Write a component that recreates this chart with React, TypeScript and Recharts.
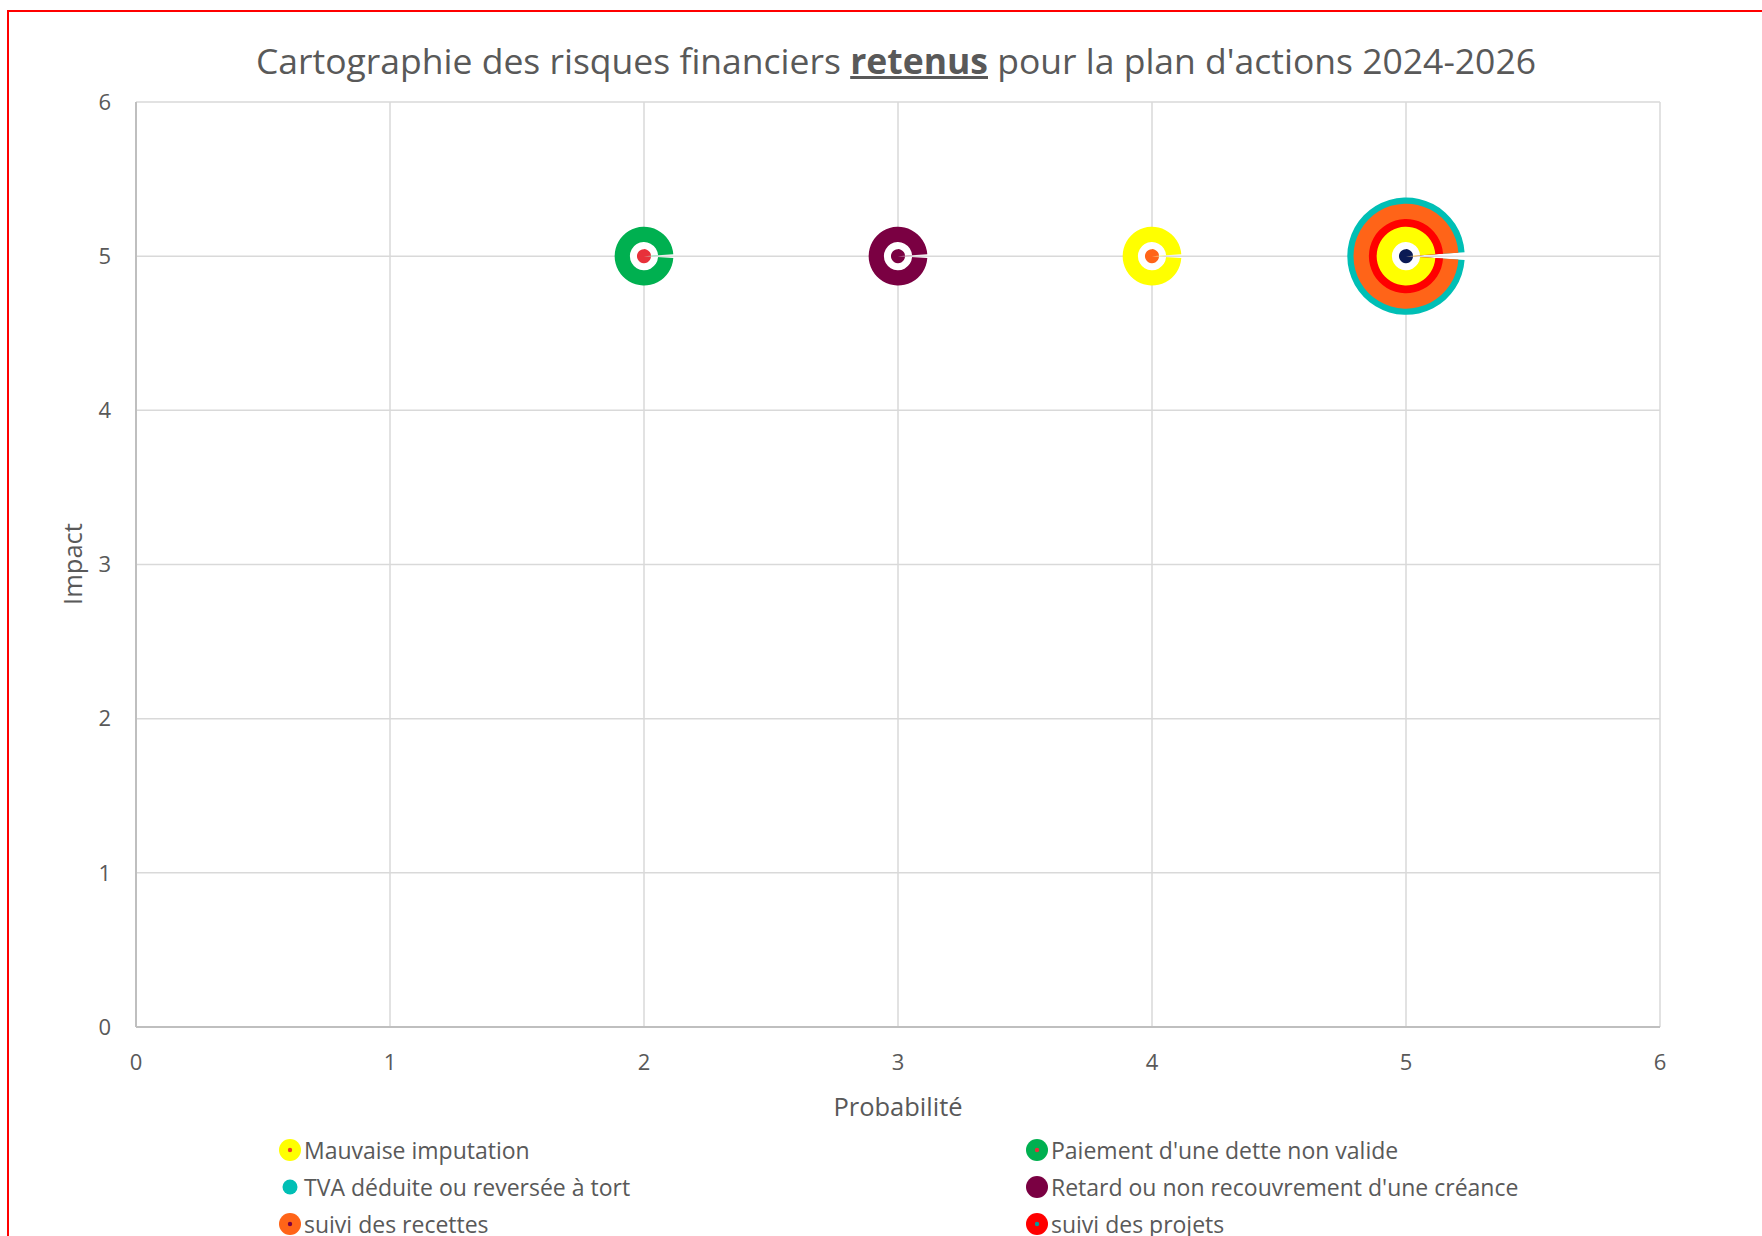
import { ScatterChart, Scatter, XAxis, YAxis, ZAxis, CartesianGrid } from "recharts";

const FONT = "'Open Sans', 'Noto Sans', sans-serif";
const TEXT = "#595959";

const axisTicks = [0, 1, 2, 3, 4, 5, 6];

// each risk: probabilité (x), impact (y), taille de bulle (z)
const mauvaiseImputation = [
  { x: 4, y: 5, z: 5 },
  { x: 5, y: 5, z: 5 },
];
const paiementDette = [{ x: 2, y: 5, z: 5 }];
const tvaDeduite = [{ x: 5, y: 5, z: 20 }];
const retardCreance = [{ x: 3, y: 5, z: 5 }];
const suiviRecettes = [{ x: 5, y: 5, z: 16 }];
const suiviProjets = [{ x: 5, y: 5, z: 8 }];

const legendNames = [
  "Mauvaise imputation",
  "Paiement d'une dette non valide",
  "TVA déduite ou reversée à tort",
  "Retard ou non recouvrement d'une créance",
  "suivi des recettes",
  "suivi des projets",
];

// styles
const colors: Record<string, string> = {
  "Mauvaise imputation": "#FFFF00",
  "Paiement d'une dette non valide": "#00B050",
  "TVA déduite ou reversée à tort": "#00BFB5",
  "Retard ou non recouvrement d'une créance": "#7A0042",
  "suivi des recettes": "#FF6418",
  "suivi des projets": "#FF0000",
};
const legendDots: Record<string, string | undefined> = {
  "Mauvaise imputation": "#F04020",
  "Paiement d'une dette non valide": "#E8303A",
  "suivi des recettes": "#7A0042",
  "suivi des projets": "#00A0A0",
};
const centreDots: Record<string, string> = {
  "2-5": "#E8303A",
  "3-5": "#7A0042",
  "4-5": "#FF6418",
  "5-5": "#0B1B55",
};

function notchedDisc(cx: number, cy: number, r: number) {
  const d = 0.065;
  const x1 = cx + r * Math.cos(d);
  const y1 = cy - r * Math.sin(d);
  const y2 = cy + r * Math.sin(d);
  return `M${cx},${cy} L${x1},${y1} A${r},${r} 0 1 0 ${x1},${y2} Z`;
}

function bubble(color: string, hole: boolean) {
  return (props: any) => {
    const { cx, cy, width, payload } = props;
    const r = width / 2;
    const dot = centreDots[`${payload.x}-${payload.y}`];
    return (
      <g>
        <path d={notchedDisc(cx, cy, r)} fill={color} />
        {hole && <path d={notchedDisc(cx, cy, r * 0.48)} fill="#FFFFFF" />}
        {hole && dot && <path d={notchedDisc(cx, cy, r * 0.24)} fill={dot} />}
      </g>
    );
  };
}

function LegendItem({ name }: { name: string }) {
  const r = name.startsWith("TVA") ? 7.5 : 11;
  const dot = legendDots[name];
  return (
    <div style={{ display: "flex", alignItems: "center", height: 37 }}>
      <svg width={22} height={24} style={{ flex: "none" }}>
        <circle cx={11} cy={12} r={r} fill={colors[name]} />
        {dot && <circle cx={11} cy={12} r={2.2} fill={dot} />}
      </svg>
      <span style={{ marginLeft: 3, fontSize: 23, lineHeight: "30px", color: TEXT, whiteSpace: "nowrap" }}>
        {name}
      </span>
    </div>
  );
}

export default function App() {
  const tick = { fill: TEXT, fontSize: 22, fontFamily: FONT };
  return (
    <div
      style={{
        position: "absolute",
        left: 0,
        top: 0,
        width: 1762,
        height: 1236,
        overflow: "hidden",
        background: "#fff",
        fontFamily: FONT,
      }}
    >
      <div
        style={{
          position: "absolute",
          left: 7,
          top: 10,
          width: 1800,
          height: 1300,
          border: "2px solid #FF0000",
        }}
      />
      <div
        style={{
          position: "absolute",
          left: 0,
          width: 1792,
          top: 35,
          textAlign: "center",
          fontSize: 35.5,
          color: TEXT,
          lineHeight: "50px",
          whiteSpace: "nowrap",
        }}
      >
        Cartographie des risques financiers{" "}
        <span style={{ fontWeight: 700, textDecoration: "underline" }}>retenus</span> pour la plan
        d'actions 2024-2026
      </div>

      <div style={{ position: "absolute", left: 0, top: 0 }}>
        <ScatterChart width={1762} height={1236} margin={{ top: 102, right: 102, bottom: 149, left: 0 }}>
          <CartesianGrid stroke="#D9D9D9" strokeWidth={1.5} />
          <XAxis
            type="number"
            dataKey="x"
            domain={[0, 6]}
            ticks={axisTicks}
            tick={tick}
            tickLine={false}
            tickSize={0}
            tickMargin={27}
            height={60}
            axisLine={{ stroke: "#BFBFBF", strokeWidth: 2 }}
            allowDataOverflow
          />
          <YAxis
            type="number"
            dataKey="y"
            domain={[0, 6]}
            ticks={axisTicks}
            tick={tick}
            tickLine={false}
            tickSize={0}
            tickMargin={25}
            width={136}
            axisLine={{ stroke: "#BFBFBF", strokeWidth: 2 }}
            allowDataOverflow
          />
          <ZAxis type="number" dataKey="z" domain={[0, 20]} range={[0, 10826]} />
          <Scatter data={tvaDeduite} shape={bubble(colors["TVA déduite ou reversée à tort"], false)} isAnimationActive={false} />
          <Scatter data={suiviRecettes} shape={bubble(colors["suivi des recettes"], false)} isAnimationActive={false} />
          <Scatter data={suiviProjets} shape={bubble(colors["suivi des projets"], false)} isAnimationActive={false} />
          <Scatter data={retardCreance} shape={bubble(colors["Retard ou non recouvrement d'une créance"], true)} isAnimationActive={false} />
          <Scatter data={paiementDette} shape={bubble(colors["Paiement d'une dette non valide"], true)} isAnimationActive={false} />
          <Scatter data={mauvaiseImputation} shape={bubble(colors["Mauvaise imputation"], true)} isAnimationActive={false} />
        </ScatterChart>
      </div>

      <div
        style={{
          position: "absolute",
          left: 798,
          width: 200,
          top: 1090,
          textAlign: "center",
          fontSize: 25.5,
          color: TEXT,
          lineHeight: "32px",
        }}
      >
        Probabilité
      </div>
      <div
        style={{
          position: "absolute",
          left: 72 - 60,
          top: 564 - 16,
          width: 120,
          textAlign: "center",
          fontSize: 25.5,
          color: TEXT,
          lineHeight: "32px",
          transform: "rotate(-90deg)",
        }}
      >
        Impact
      </div>

      <div
        style={{
          position: "absolute",
          left: 279,
          top: 1131,
          display: "grid",
          gridTemplateColumns: "747px 600px",
        }}
      >
        {legendNames.map((n) => (
          <LegendItem key={n} name={n} />
        ))}
      </div>
    </div>
  );
}
